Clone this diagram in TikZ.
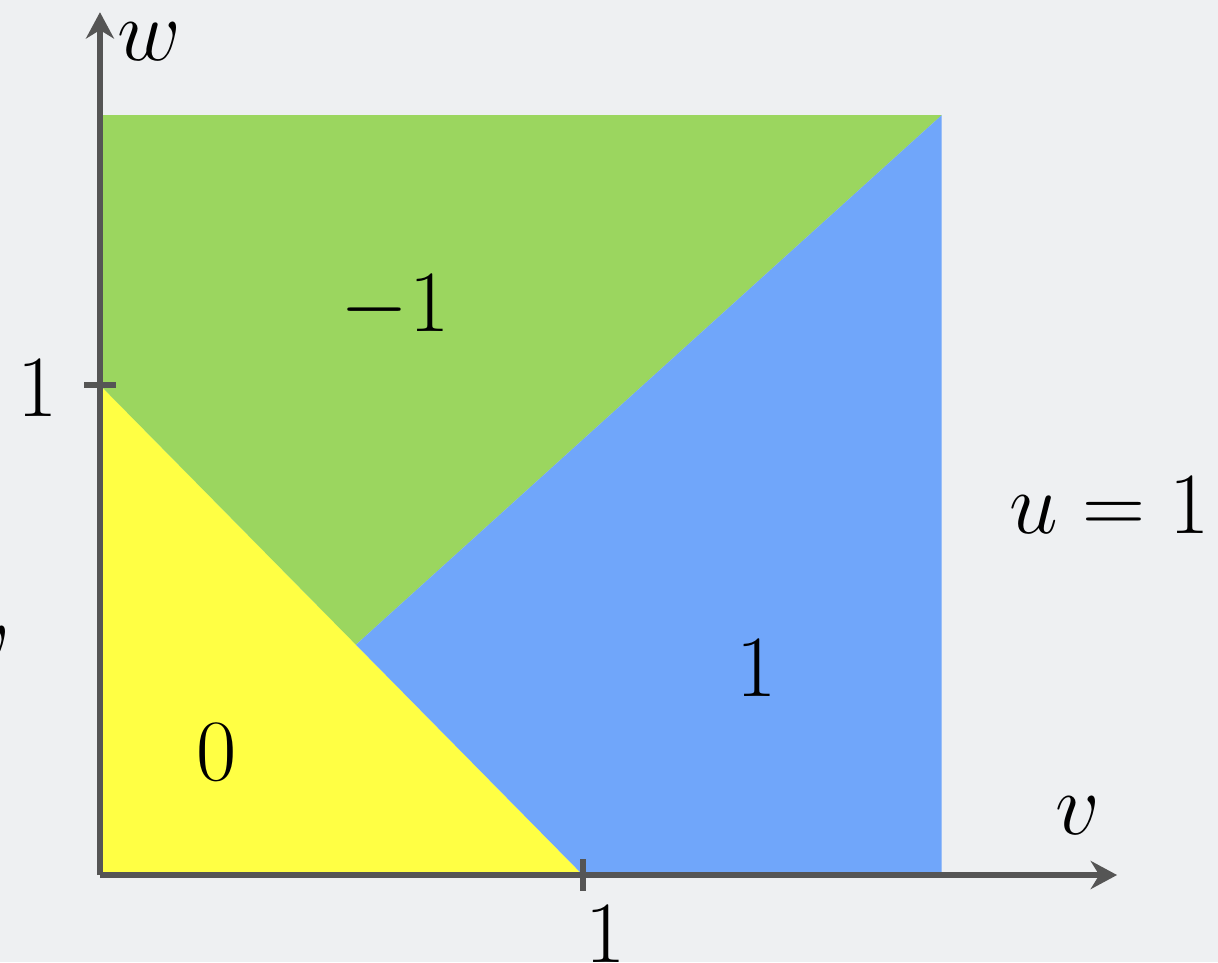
\documentclass[tikz,border=0pt]{standalone}
\usepackage{amsmath,amssymb}
\usepackage{xcolor}
\usetikzlibrary{arrows.meta}
\definecolor{BgGray}{HTML}{EEF0F2}
\definecolor{AxisGray}{HTML}{555555}
\definecolor{RegionGreen}{HTML}{9BD65F}
\definecolor{RegionYellow}{HTML}{FFFF44}
\definecolor{RegionBlue}{HTML}{70A6FA}

\begin{document}
\begin{tikzpicture}[x=4.83cm, y=4.90cm,
    axis/.style={line width=1.5pt, color=AxisGray, -{Stealth[length=7.5pt, width=8pt]}},
    tick/.style={line width=1.6pt, color=AxisGray},
    lbl/.style={font=\fontsize{24}{29}\selectfont, inner sep=0pt}]
  % Background
  \fill[BgGray] (-0.207,-0.178) rectangle (2.315,1.786);
  \useasboundingbox (-0.207,-0.178) rectangle (2.315,1.786);

  % Corner points
  \coordinate (O) at (0,0);
  \coordinate (vone) at (1,0);
  \coordinate (wone) at (0,1);
  \coordinate (M) at (0.53,0.47);
  \coordinate (TR) at (1.743,1.551);
  \coordinate (TL) at (0,1.551);
  \coordinate (BR) at (1.743,0);

  % Regions
  \fill[RegionYellow] (O) -- (vone) -- (wone) -- cycle;
  \fill[RegionGreen] (wone) -- (M) -- (TR) -- (TL) -- cycle;
  \fill[RegionBlue] (vone) -- (BR) -- (TR) -- (M) -- cycle;

  % Axes
  \coordinate (vend) at (2.106,0);
  \coordinate (wend) at (0,1.761);
  \draw[axis] (O) -- (vend);
  \draw[axis] (O) -- (wend);

  % Ticks
  \draw[tick] ([yshift=-4.5pt]vone) -- ([yshift=4.5pt]vone);
  \draw[tick] ([xshift=-4.5pt]wone) -- ([xshift=4.5pt]wone);

  % Labels
  \node[lbl, anchor=west] (wlab) at (0.035,1.70) {$w$};
  \node[lbl] (vlab) at (2.025,0.122) {$v$};
  \node[lbl] (vtick) at (1.046,-0.122) {$1$};
  \node[lbl] (wtick) at (-0.13,0.994) {$1$};
  \node[lbl] (green) at (0.611,1.159) {$-1$};
  \node[lbl] (yellow) at (0.242,0.251) {$0$};
  \node[lbl] (blue) at (1.360,0.422) {$1$};
  \node[lbl] (ulab) at (2.091,0.755) {$u=1$};
  \node[lbl] (cut) at (-0.232,0.469) {$v$};
\end{tikzpicture}
\end{document}
